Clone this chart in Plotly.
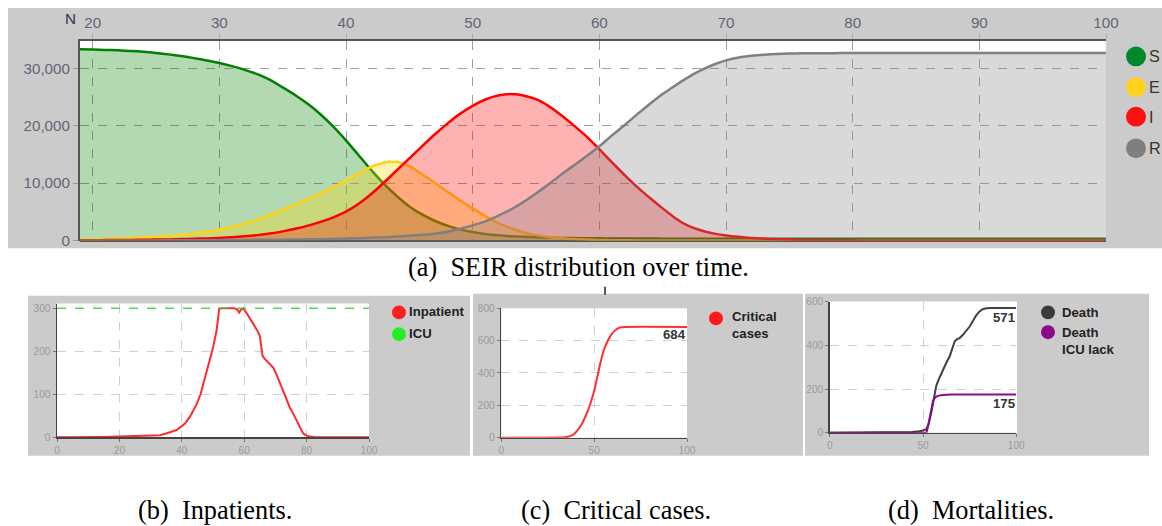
import plotly.graph_objects as go

# Reference geometry is measured on a 1162x526 picture; the capture shrinks the
# page slightly, so the figure is built a little larger (factor K) at margin 0.
REF_W, REF_H = 1162, 526
K = 1178 / 1162
W, H = round(REF_W * K), round(REF_H * K)

# ---------------- data: SEIR (panel a) ----------------
days = list(range(19, 101))
S = [33280, 33240, 33180, 33100, 33000, 32850, 32650, 32400, 32100, 31750,
     31350, 30900, 30350, 29700, 28950, 27950, 26650, 25300, 23750, 21950,
     19850, 17450, 14850, 12250, 9850, 7750, 5950, 4550, 3450, 2600,
     1950, 1480, 1150, 920, 760, 650, 570, 510, 465, 435,
     410, 390, 372, 360, 352, 345, 340, 336, 332, 329,
     326, 323, 321, 319, 317, 315, 314, 313, 312, 311,
     310, 309, 308, 307, 306, 305, 305, 304, 304, 303,
     303, 302, 302, 301, 301, 301, 300, 300, 300, 300,
     300, 300]
E = [170, 220, 280, 350, 430, 530, 660, 810, 1000, 1230,
     1520, 1900, 2400, 2950, 3650, 4500, 5400, 6300, 7250, 8250,
     9300, 10450, 11700, 12850, 13550, 13700, 12950, 11550, 10050, 8500,
     7000, 5600, 4250, 3050, 2150, 1450, 950, 620, 400, 260,
     170, 115, 75, 50, 35, 25, 18, 13, 10, 7,
     5, 4, 3, 3, 2, 2, 2, 1, 1, 1,
     1, 1, 1, 1, 1, 1, 1, 1, 1, 1,
     1, 1, 1, 1, 1, 1, 1, 1, 1, 1,
     1, 1]
I = [60, 70, 85, 100, 120, 145, 175, 210, 255, 310,
     380, 470, 580, 740, 950, 1230, 1600, 2050, 2600, 3250,
     4050, 5050, 6400, 8100, 10100, 12200, 14300, 16400, 18450, 20350,
     22050, 23450, 24550, 25250, 25500, 25250, 24600, 23400, 21800, 20000,
     18100, 15900, 13600, 11400, 9300, 7400, 5600, 3900, 2600, 1800,
     1250, 900, 650, 470, 340, 250, 180, 130, 95, 70,
     50, 40, 30, 24, 19, 15, 12, 10, 8, 6,
     5, 4, 4, 3, 3, 2, 2, 2, 1, 1,
     1, 1]
R = [10, 12, 15, 18, 22, 27, 33, 40, 48, 57,
     67, 80, 95, 110, 125, 140, 160, 185, 215, 250,
     295, 350, 420, 500, 590, 700, 850, 1000, 1200, 1550,
     2050, 2650, 3350, 4300, 5400, 6700, 8200, 9800, 11500, 13100,
     14700, 16400, 18300, 20100, 22000, 23800, 25500, 27000, 28400, 29600,
     30600, 31350, 31850, 32150, 32350, 32480, 32550, 32580, 32600, 32610,
     32620, 32625, 32630, 32630, 32632, 32634, 32636, 32638, 32640, 32640,
     32642, 32644, 32645, 32646, 32647, 32648, 32648, 32649, 32649, 32650,
     32650, 32650]
seir_names = ["S", "E", "I", "R"]
top_xticks = [20, 30, 40, 50, 60, 70, 80, 90, 100]
top_yticks = [0, 10000, 20000, 30000]

# ---------------- data: inpatients (panel b) ----------------
inp_days = [0, 10, 15, 20, 25, 30, 33, 35, 37, 38.3, 40, 41, 42.6, 43.5, 44.7, 46,
            46.8, 47.6, 48.4, 49.2, 50, 50.6, 51.1, 51.6, 52, 53, 55, 57, 58, 58.4,
            59, 59.7, 60.5, 61.8, 63, 64, 65, 65.5, 65.9, 66.5, 67.2, 68.2, 69.3,
            70.3, 71.4, 72.5, 73.6, 74.6, 75.7, 76.8, 77.9, 78.9, 80, 81, 83, 100]
inp_vals = [0, 0, 1, 2, 3, 4, 5, 9, 13, 17, 26, 32, 48, 60, 76, 100,
            120, 143, 166, 186, 208, 228, 247, 275, 299, 300, 300, 300, 295, 290,
            297, 300, 292, 277, 265, 251, 236, 215, 189, 183, 178, 170, 162,
            147, 128, 107, 86, 70, 55, 40, 25, 9, 4, 2, 0, 0]
icu_days = [0, 100]
icu_vals = [300, 300]

# ---------------- data: critical cases (panel c) ----------------
crit_days = [0, 20, 30, 34, 36, 38, 39.5, 41, 43, 45, 46.7, 48.5, 50.3, 51.7, 53,
             54.3, 55.7, 57.5, 59.2, 61, 62.8, 64.5, 66.4, 100]
crit_vals = [0, 0, 1, 3, 6, 14, 26, 45, 77, 123, 169, 230, 301, 375, 444,
             505, 556, 602, 637, 660, 676, 682, 684, 684]
crit_final = 684

# ---------------- data: mortalities (panel d) ----------------
death_days = [0, 35, 39, 44, 48, 50, 51.8, 53, 54.5, 55.5, 56.3, 57.1, 58.5, 60.7,
              62.5, 64.3, 65.7, 67, 68.3, 69.6, 71.4, 73, 75, 76.8, 78.6, 80.3, 82,
              84, 86, 100]
death_vals = [0, 0, 1, 3, 7, 10, 17, 40, 95, 145, 185, 215, 245, 290,
              320, 350, 385, 418, 428, 433, 448, 465, 486, 512, 538, 555, 565,
              569, 571, 571]
dicu_days = [0, 51.8, 52.6, 53.6, 54.5, 55.4, 56.2, 57.1, 58.5, 60.7, 65, 100]
dicu_vals = [0, 0, 25, 65, 108, 147, 158, 165, 170, 173, 175, 175]
death_final = 571
dicu_final = 175


def fx(px):
    return px / REF_W


def fy(py):
    return 1 - py / REF_H


def fs(size):
    return size * K


fig = go.Figure()

# ---- panel a traces
seir_style = [
    ("rgb(0,128,0)", "rgba(0,128,0,0.30)"),
    ("rgb(255,212,20)", "rgba(255,215,0,0.30)"),
    ("rgb(255,0,0)", "rgba(255,0,0,0.30)"),
    ("rgb(128,128,128)", "rgba(128,128,128,0.30)"),
]
for name, vals, (lc, fc) in zip(seir_names, [S, E, I, R], seir_style):
    fig.add_trace(go.Scatter(
        x=days, y=vals, name=name, mode="lines",
        line=dict(color=lc, width=2.5, shape="spline", smoothing=0.5),
        fill="tozeroy", fillcolor=fc, xaxis="x", yaxis="y",
        showlegend=False, hoverinfo="skip"))

# ---- panel b traces
fig.add_trace(go.Scatter(x=inp_days, y=inp_vals, mode="lines",
                         line=dict(color="#ff2a2a", width=2),
                         xaxis="x2", yaxis="y2", showlegend=False, hoverinfo="skip"))
fig.add_trace(go.Scatter(x=icu_days, y=icu_vals, mode="lines",
                         line=dict(color="rgba(40,220,40,0.8)", width=1.5, dash="dash"),
                         xaxis="x2", yaxis="y2", showlegend=False, hoverinfo="skip"))

# ---- panel c traces
fig.add_trace(go.Scatter(x=crit_days, y=crit_vals, mode="lines",
                         line=dict(color="#ff3030", width=2, shape="spline", smoothing=0.6),
                         xaxis="x3", yaxis="y3", showlegend=False, hoverinfo="skip"))

# ---- panel d traces
fig.add_trace(go.Scatter(x=death_days, y=death_vals, mode="lines",
                         line=dict(color="#404040", width=2),
                         xaxis="x4", yaxis="y4", showlegend=False, hoverinfo="skip"))
fig.add_trace(go.Scatter(x=dicu_days, y=dicu_vals, mode="lines",
                         line=dict(color="#8a0a8a", width=2),
                         xaxis="x4", yaxis="y4", showlegend=False, hoverinfo="skip"))

shapes = []


def rect(x0, y0, x1, y1, color):
    shapes.append(dict(type="rect", xref="paper", yref="paper",
                       x0=fx(x0), x1=fx(x1), y0=fy(y1), y1=fy(y0),
                       fillcolor=color, line=dict(width=0), layer="below"))


def circle(cx, cy, r, color):
    shapes.append(dict(type="circle", xref="paper", yref="paper",
                       x0=fx(cx - r), x1=fx(cx + r), y0=fy(cy + r), y1=fy(cy - r),
                       fillcolor=color, line=dict(width=0), layer="above"))


GRAY = "#cbcbcb"
# panel backgrounds
rect(5, 3, 1162, 246, GRAY)
rect(77, 36, 1103, 238.3, "white")
rect(25, 294, 467, 456, GRAY)
rect(54, 302, 366, 437.3, "white")
rect(470, 292, 800, 456, GRAY)
rect(498.3, 306.7, 684, 437.7, "white")
rect(802, 292, 1146, 456, GRAY)
rect(826.7, 300, 1014, 432.7, "white")

# small stray mark above panel c
shapes.append(dict(type="line", xref="paper", yref="paper",
                   x0=fx(602), x1=fx(602), y0=fy(285), y1=fy(293),
                   line=dict(color="#222", width=1.5)))

# legend circles
for (cy, col) in [(52, "#00882a"), (83, "#ffd21f"), (113, "#ff1010"), (145, "#7f7f7f")]:
    circle(1133, cy, 10, col)
circle(396, 311, 7, "#ff2020")
circle(396, 333, 7, "#22ee22")
circle(713, 317, 7, "#ff1a1a")
circle(1045, 311, 7, "#3a3a3a")
circle(1045, 331, 7, "#8a0a8a")

annotations = []


def text(t, px, py, size, color, xanchor="left", yanchor="middle", family="Liberation Sans, Arial, sans-serif"):
    annotations.append(dict(text=t, x=fx(px), y=fy(py), xref="paper", yref="paper",
                            xanchor=xanchor, yanchor=yanchor, showarrow=False,
                            font=dict(size=fs(size), color=color, family=family)))


text("N", 67, 14, 15, "#2a3550", xanchor="center")
for name, cy in zip(seir_names, [52, 83, 113, 145]):
    text(name, 1144, cy, 16, "#3b3322")
text("<b>Inpatient</b>", 404, 310, 13, "#222")
text("<b>ICU</b>", 404, 332, 13, "#222")
text("<b>Critical</b>", 727, 315, 13, "#222")
text("<b>cases</b>", 727, 332, 13, "#222")
text("<b>Death</b>", 1057, 311, 13, "#222")
text("<b>Death</b>", 1057, 331, 13, "#222")
text("<b>ICU lack</b>", 1057, 348, 13, "#222")
text("<b>%d</b>" % crit_final, 685, 333, 13, "#333", xanchor="right")
text("<b>%d</b>" % death_final, 1014, 316, 13, "#333", xanchor="right")
text("<b>%d</b>" % dicu_final, 1014, 403, 13, "#333", xanchor="right")

serif = "Liberation Serif, Times New Roman, serif"
text("(a)\u00a0\u00a0SEIR distribution over time.", 575, 266, 26, "black", xanchor="center", family=serif)
text("(b)\u00a0\u00a0Inpatients.", 212, 511, 26, "black", xanchor="center", family=serif)
text("(c)\u00a0\u00a0Critical cases.", 613, 511, 26, "black", xanchor="center", family=serif)
text("(d)\u00a0\u00a0Mortalities.", 968, 511, 26, "black", xanchor="center", family=serif)

top_font = dict(family="Liberation Sans, Arial, sans-serif", size=fs(15), color="#5f6675")
small_font = dict(family="Liberation Sans, Arial, sans-serif", size=fs(10), color="#9a9a9a")


def small_axes(dx0, dx1, dy0, dy1, xt, yr, yt, anchor_x, anchor_y):
    xa = dict(domain=[fx(dx0), fx(dx1)], anchor=anchor_y, range=[0, 100], tickvals=xt,
              showgrid=True, gridcolor="#cfcfcf", griddash="dash", gridwidth=1,
              showline=True, linecolor="#444", linewidth=1.5, ticks="outside",
              ticklen=3, tickcolor="#777", tickfont=small_font, zeroline=False,
              fixedrange=True)
    ya = dict(domain=[fy(dy1), fy(dy0)], anchor=anchor_x, range=yr, tickvals=yt,
              showgrid=True, gridcolor="#cfcfcf", griddash="dash", gridwidth=1,
              showline=True, linecolor="#444", linewidth=1.5, ticks="outside",
              ticklen=3, tickcolor="#777", tickfont=small_font, zeroline=False,
              fixedrange=True)
    return xa, ya


x2, y2 = small_axes(54, 366, 302, 437.3, [0, 20, 40, 60, 80, 100], [0, 311], [0, 100, 200, 300], "x2", "y2")
x3, y3 = small_axes(498.3, 684, 306.7, 437.7, [0, 50, 100], [0, 800], [0, 200, 400, 600, 800], "x3", "y3")
x4, y4 = small_axes(826.7, 1013.3, 300, 432.7, [0, 50, 100], [0, 600], [0, 200, 400, 600], "x4", "y4")

fig.update_layout(
    width=W, height=H, margin=dict(l=0, r=0, t=0, b=0),
    paper_bgcolor="white", plot_bgcolor="rgba(0,0,0,0)",
    showlegend=False,
    xaxis=dict(domain=[fx(77), fx(1103)], anchor="y", side="top", range=[19, 100],
               tickvals=top_xticks, showgrid=True, gridcolor="#a0a0a0", griddash="dash",
               gridwidth=1, showline=True, linecolor="#555", linewidth=2,
               ticks="outside", ticklen=5, tickcolor="#aaa", tickfont=top_font,
               zeroline=False, fixedrange=True),
    yaxis=dict(domain=[fy(238.3), fy(36)], anchor="x", range=[0, 34800],
               tickvals=top_yticks, tickformat=",", showgrid=True, gridcolor="#a0a0a0",
               griddash="dash", gridwidth=1, showline=True, linecolor="#555", linewidth=2,
               ticks="outside", ticklen=5, tickcolor="#999", tickfont=top_font,
               zeroline=True, zerolinecolor="#555", zerolinewidth=2, fixedrange=True),
    xaxis2=x2, yaxis2=y2, xaxis3=x3, yaxis3=y3, xaxis4=x4, yaxis4=y4,
    shapes=shapes, annotations=annotations,
)

fig.write_html(
    "out.html",
    config={"displayModeBar": False, "staticPlot": True},
    post_script="document.body.style.margin='0';document.body.style.padding='0';"
                "document.documentElement.style.overflow='hidden';",
)
